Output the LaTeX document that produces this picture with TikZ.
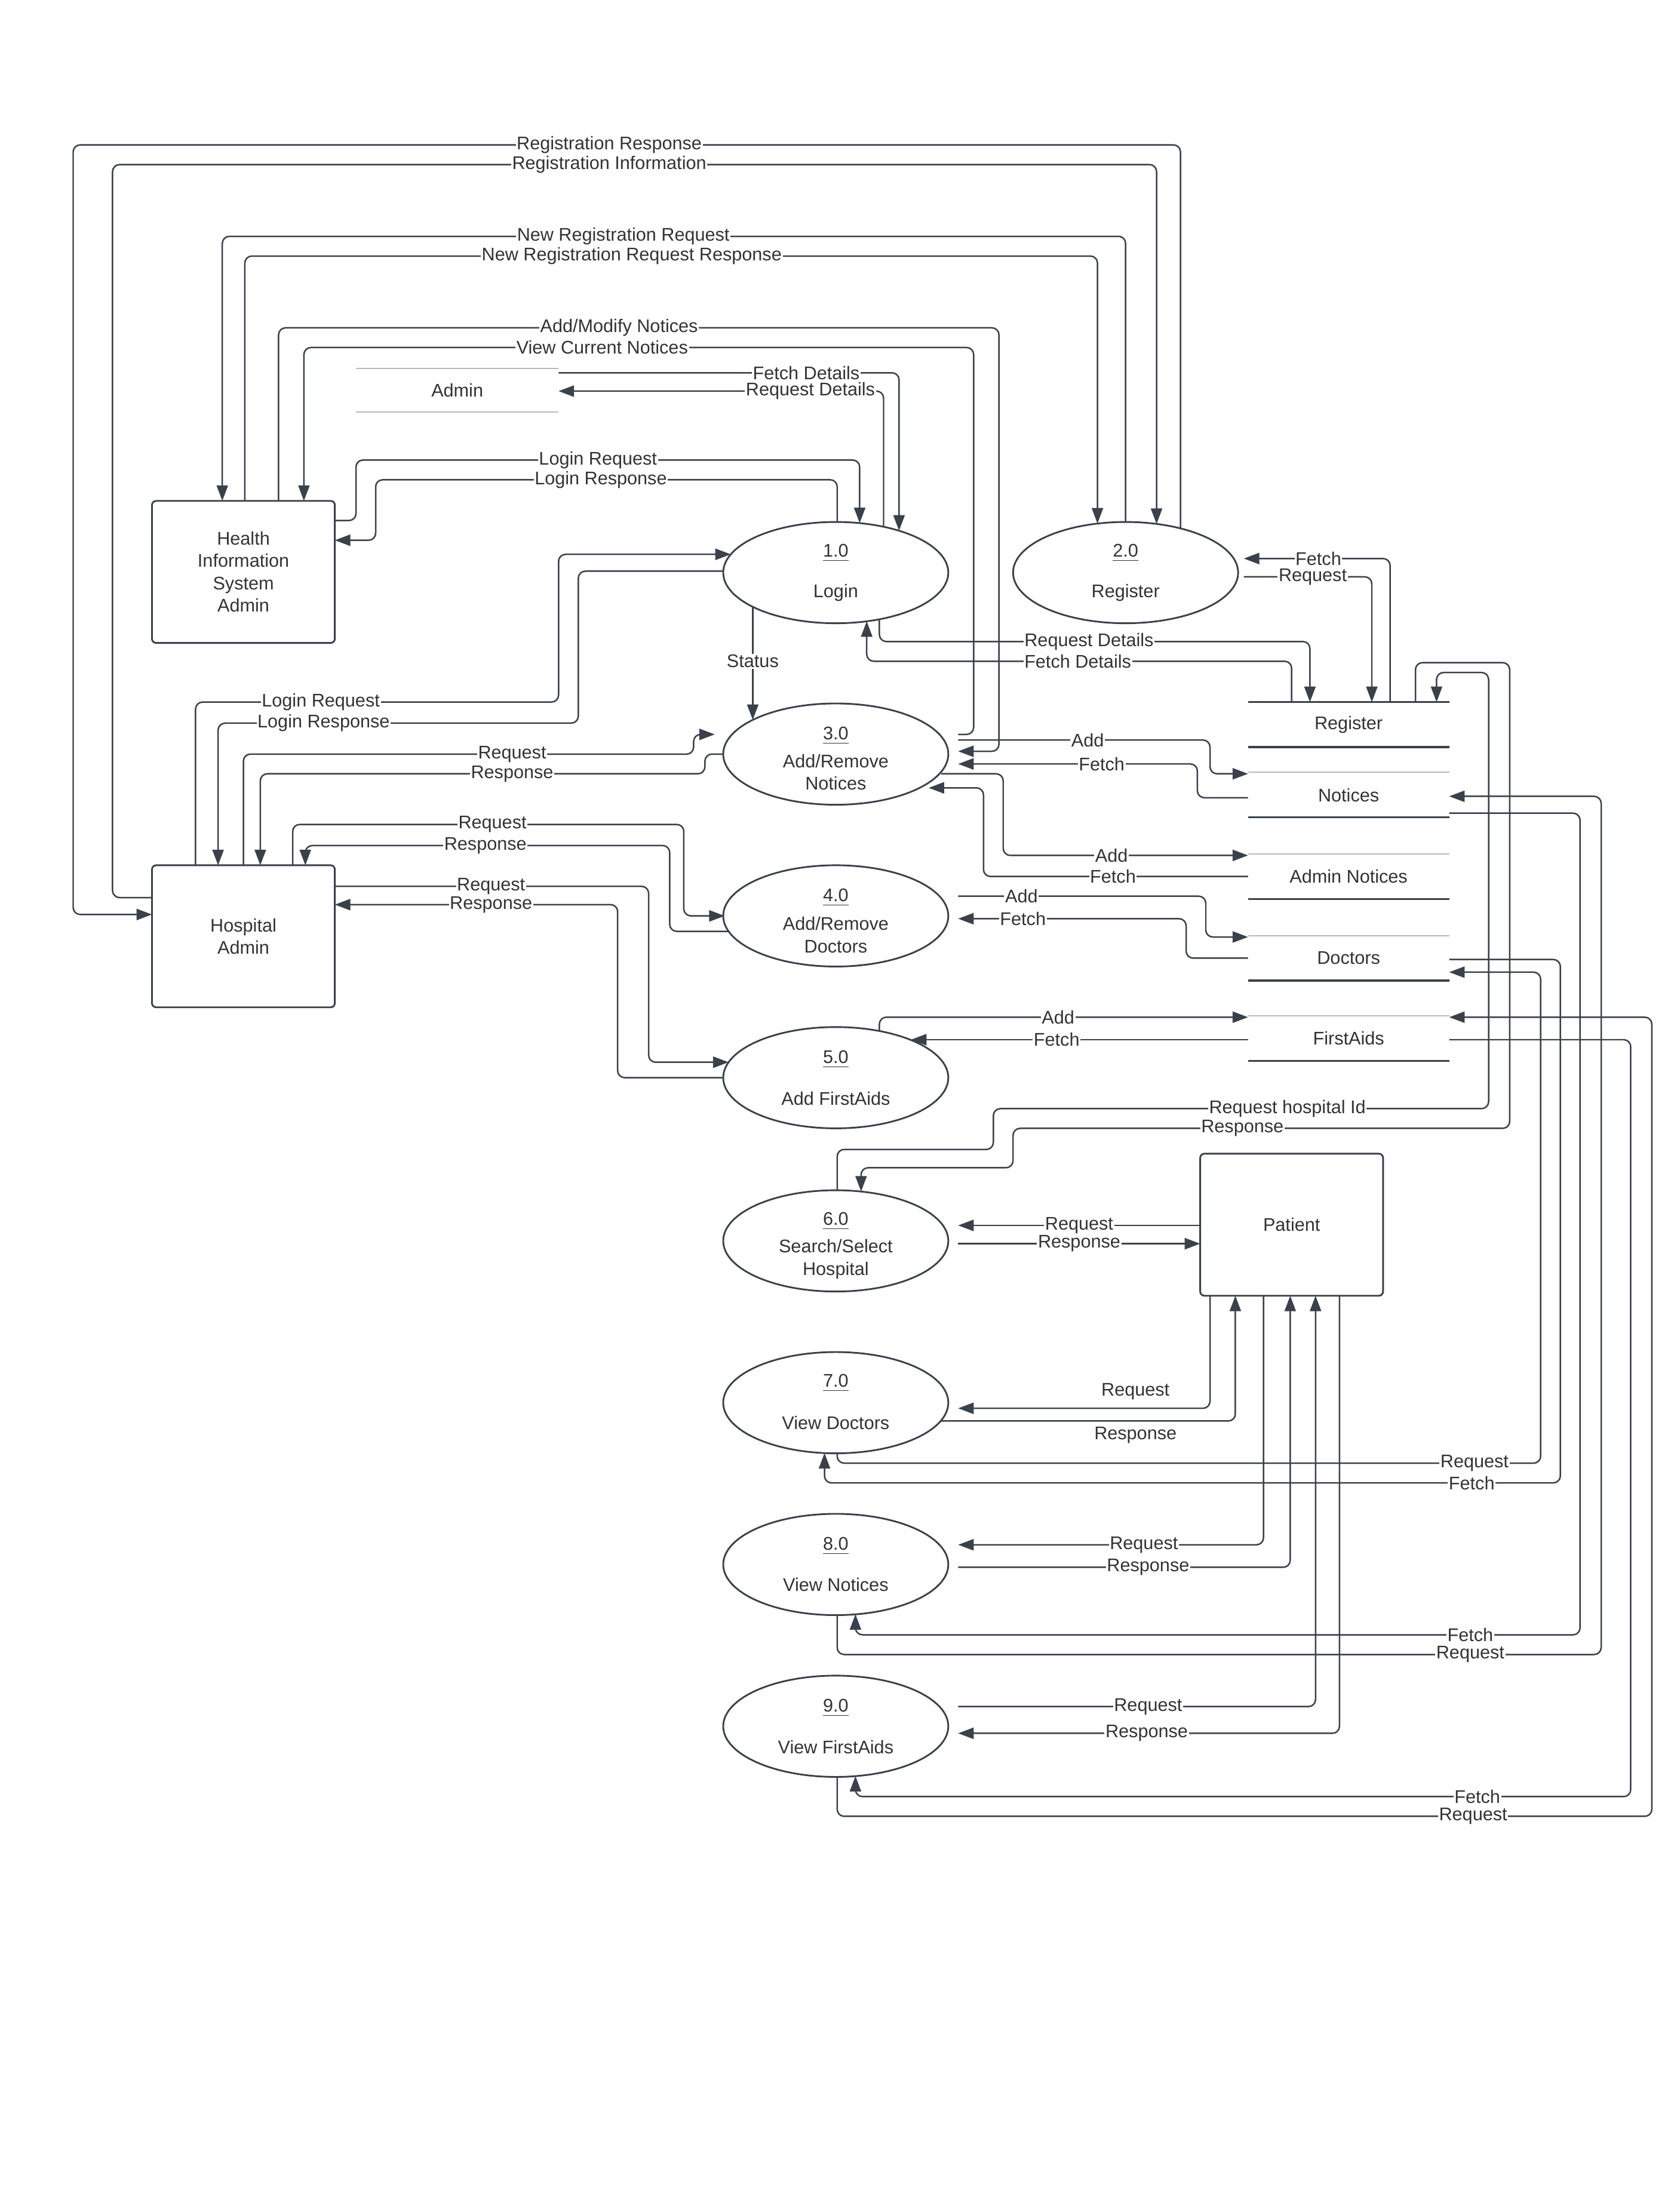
\documentclass[tikz,border=0pt]{standalone}
\usepackage{fontspec}
\setmainfont{Liberation Sans}
\usetikzlibrary{arrows.meta,calc,shapes.geometric}
\definecolor{lc}{RGB}{58,65,74}
\definecolor{tc}{RGB}{51,51,51}
\begin{document}
\begin{tikzpicture}[x=0.02cm,y=-0.02cm,
  font=\fontsize{7.4}{9}\selectfont, text=tc,
  conn/.style={draw=lc,line width=0.6pt,rounded corners=0.1cm},
  flow/.style={conn,-{Triangle[length=0.22cm,width=0.16cm]}},
  lbl/.style={fill=white,inner sep=0.4pt,text=tc},
  plainlbl/.style={inner sep=0.4pt,text=tc},
  proc/.style={ellipse,draw=lc,line width=0.7pt,fill=white,minimum width=3.2cm,minimum height=1.44cm,inner sep=0pt,outer sep=0pt},
  ent/.style={rectangle,draw=lc,line width=0.7pt,rounded corners=0.06cm,fill=white,minimum width=2.6cm,minimum height=2.02cm,align=center,inner sep=0pt,outer sep=0pt},
  store/.style={rectangle,minimum width=2.86cm,minimum height=0.64cm,inner sep=0pt,outer sep=0pt},
  ptxt/.style={align=center,inner sep=0pt},
  thinline/.style={draw=gray!55,line width=0.5pt},
  thickline/.style={draw=lc,line width=0.8pt}]
\useasboundingbox[fill=white] (0,0) rectangle (1194,1568);

% ---------- external entities ----------
\node[ent] (his) at (173,406.5) {Health\\Information\\System\\Admin};
\node[ent] (hosp) at (173,665.5) {Hospital\\Admin};
\node[ent] (pat) at (918,870.5) {Patient};

% ---------- processes ----------
\node[proc] (p1) at (594,407) {};
\node[proc] (p2) at (800,407) {};
\node[proc] (p3) at (594,536) {};
\node[proc] (p4) at (594,651) {};
\node[proc] (p5) at (594,766) {};
\node[proc] (p6) at (594,882) {};
\node[proc] (p7) at (594,997) {};
\node[proc] (p8) at (594,1112) {};
\node[proc] (p9) at (594,1227) {};

\node[ptxt] (n1) at ($(p1)+(0,-14)$) {\underline{1.0}};
\node[ptxt] (t1) at ($(p1)+(0,14.5)$) {Login};
\node[ptxt] (n2) at ($(p2)+(0,-14)$) {\underline{2.0}};
\node[ptxt] (t2) at ($(p2)+(0,14.5)$) {Register};
\node[ptxt] (n3) at ($(p3)+(0,-13)$) {\underline{3.0}};
\node[ptxt] (t3) at ($(p3)+(0,13)$) {Add/Remove\\Notices};
\node[ptxt] (n4) at ($(p4)+(0,-13)$) {\underline{4.0}};
\node[ptxt] (t4) at ($(p4)+(0,13.5)$) {Add/Remove\\Doctors};
\node[ptxt] (n5) at ($(p5)+(0,-13)$) {\underline{5.0}};
\node[ptxt] (t5) at ($(p5)+(0,15)$) {Add FirstAids};
\node[ptxt] (n6) at ($(p6)+(0,-14)$) {\underline{6.0}};
\node[ptxt] (t6) at ($(p6)+(0,13)$) {Search/Select\\Hospital};
\node[ptxt] (n7) at ($(p7)+(0,-14)$) {\underline{7.0}};
\node[ptxt] (t7) at ($(p7)+(0,14.5)$) {View Doctors};
\node[ptxt] (n8) at ($(p8)+(0,-13)$) {\underline{8.0}};
\node[ptxt] (t8) at ($(p8)+(0,14.5)$) {View Notices};
\node[ptxt] (n9) at ($(p9)+(0,-13)$) {\underline{9.0}};
\node[ptxt] (t9) at ($(p9)+(0,15)$) {View FirstAids};

% ---------- data stores ----------
\node[store,minimum width=2.88cm,minimum height=0.62cm] (dAdmin) at (325,277.5) {Admin};
\node[store] (dReg) at (958.5,515) {Register};
\node[store] (dNot) at (958.5,565) {Notices};
\node[store] (dANot) at (958.5,623) {Admin Notices};
\node[store] (dDoc) at (958.5,681) {Doctors};
\node[store] (dFA) at (958.5,738) {FirstAids};

\draw[thinline] (dAdmin.north west) -- (dAdmin.north east);
\draw[thinline] (dAdmin.south west) -- (dAdmin.south east);
\draw[thickline] (dReg.north west) -- (dReg.north east);
\draw[thickline] (dReg.south west) -- (dReg.south east);
\foreach \s in {dNot,dANot,dDoc,dFA}{
  \draw[thinline] (\s.north west) -- (\s.north east);
  \draw[thickline] (\s.south west) -- (\s.south east);
}

% ---------- connectors: top group ----------
\draw[flow] ($(p2)+(39,-31.4)$) -- (839,103) -- (52,103) -- (52,650) -- (hosp.west |- 0,650);
\draw[flow] (hosp.west |- 0,638) -- (80,638) -- (80,117) -- (822,117) -- ($(p2)+(22,-34.6)$);
\draw[flow] ($(p2)+(0,-36)$) -- (800,168) -- (158,168) -- (his.north -| 158,0);
\draw[flow] (his.north -| 174,0) -- (174,182) -- (780,182) -- ($(p2)+(-20,-34.9)$);
\draw[flow] (his.north -| 198,0) -- (198,233) -- (710,233) -- (710,534) -- ($(p3)+(87,-2)$);
\draw[flow] ($(p3)+(87,-14)$) -- (692,522) -- (692,247) -- (216,247) -- (his.north -| 216,0);
\draw[flow] (dAdmin.east |- 0,265) -- (639,265) -- ($(p1)+(45,-29.8)$);
\draw[flow] ($(p1)+(34,-32.6)$) -- (628,278) -- (dAdmin.east |- 0,278);
\draw[flow] (his.east |- 0,370) -- (253,370) -- (253,327) -- (611,327) -- ($(p1)+(17,-35.2)$);
\draw[flow] ($(p1)+(1,-36)$) -- (595,341) -- (267,341) -- (267,384) -- (his.east |- 0,384);

% ---------- login / register ----------
\draw[flow] ($(p1)+(31,33.2)$) -- (625,456) -- (931,456) -- (dReg.north -| 931,0);
\draw[flow] (dReg.north -| 918,0) -- (918,470) -- (616,470) -- ($(p1)+(22,34.6)$);
\draw[flow] ($(p2)+(84,3)$) -- (975,410) -- (dReg.north -| 975,0);
\draw[flow] (dReg.north -| 988,0) -- (988,397) -- ($(p2)+(84,-10)$);
\draw[flow] ($(p1)+(-59,24.3)$) -- ($(p3)+(-59,-24.3)$);

% ---------- hospital admin ----------
\draw[flow] (hosp.north -| 139,0) -- (139,499) -- (397,499) -- (397,394) -- ($(p1)+(-74.6,-13)$);
\draw[flow] ($(p1)+(-80,-1)$) -- (411,406) -- (411,514) -- (155,514) -- (hosp.north -| 155,0);
\draw[flow] (hosp.north -| 173,0) -- (173,536) -- (493,536) -- (493,522) -- (508,522);
\draw[flow] ($(p3)+(-80,0)$) -- (501,536) -- (501,550) -- (185,550) -- (hosp.north -| 185,0);
\draw[flow] (hosp.north -| 208,0) -- (208,586) -- (486,586) -- (486,651) -- ($(p4)+(-79,0)$);
\draw[flow] ($(p4)+(-76.2,11)$) -- (476,662) -- (476,601) -- (217,601) -- (hosp.north -| 217,0);
\draw[flow] (hosp.east |- 0,630) -- (461,630) -- (461,755) -- ($(p5)+(-76.2,-11)$);
\draw[flow] ($(p5)+(-80,0)$) -- (439,766) -- (439,643) -- (hosp.east |- 0,643);

% ---------- processes to stores ----------
\draw[flow] ($(p3)+(87,-10)$) -- (860,526) -- (860,550) -- (dNot.west |- 0,550);
\draw[flow] (dNot.west |- 0,567) -- (851,567) -- (851,543) -- ($(p3)+(87,7)$);
\draw[flow] ($(p3)+(75,14)$) -- (713,550) -- (713,608) -- (dANot.west |- 0,608);
\draw[flow] (dANot.west |- 0,623) -- (699,623) -- (699,560) -- ($(p3)+(66,24)$);
\draw[flow] ($(p4)+(87,-14)$) -- (857,637) -- (857,666) -- (dDoc.west |- 0,666);
\draw[flow] (dDoc.west |- 0,681) -- (843,681) -- (843,653) -- ($(p4)+(87,2)$);
\draw[flow] ($(p5)+(31,-33.2)$) -- (625,723) -- (dFA.west |- 0,723);
\draw[flow] (dFA.west |- 0,739) -- ($(p5)+(53.5,-27)$);

% ---------- search / select hospital ----------
\draw[flow] ($(p6)+(1,-36)$) -- (595,817) -- (706,817) -- (706,788) -- (1058,788) -- (1058,478) -- (1021,478) -- (dReg.north -| 1021,0);
\draw[flow] (dReg.north -| 1006,0) -- (1006,471) -- (1073,471) -- (1073,802) -- (720,802) -- (720,830) -- (612,830) -- ($(p6)+(18,-35.1)$);
\draw[flow] (pat.west |- 0,871) -- ($(p6)+(87,-11)$);
\draw[flow] ($(p6)+(87,2)$) -- (pat.west |- 0,884);

% ---------- patient views ----------
\draw[flow] (pat.south -| 860,0) -- (860,1001) -- ($(p7)+(87,4)$);
\draw[flow] ($(p7)+(75,13)$) -- (878,1010) -- (pat.south -| 878,0);
\draw[flow] (pat.south -| 898,0) -- (898,1098) -- ($(p8)+(87,-14)$);
\draw[flow] ($(p8)+(87,2)$) -- (917,1114) -- (pat.south -| 917,0);
\draw[flow] ($(p9)+(87,-14)$) -- (935,1213) -- (pat.south -| 935,0);
\draw[flow] (pat.south -| 952,0) -- (952,1232) -- ($(p9)+(87,5)$);

% ---------- views to stores ----------
\draw[flow] ($(p7)+(1,36)$) -- (595,1040) -- (1095,1040) -- (1095,691) -- (dDoc.east |- 0,691);
\draw[flow] (dDoc.east |- 0,682) -- (1109,682) -- (1109,1054) -- (586,1054) -- ($(p7)+(-8,35.8)$);
\draw[flow] ($(p8)+(1,36)$) -- (595,1176) -- (1138,1176) -- (1138,566) -- (dNot.east |- 0,566);
\draw[flow] (dNot.east |- 0,578) -- (1123,578) -- (1123,1162) -- (608,1162) -- ($(p8)+(14,35.4)$);
\draw[flow] ($(p9)+(1,36)$) -- (595,1291) -- (1174,1291) -- (1174,723) -- (dFA.east |- 0,723);
\draw[flow] (dFA.east |- 0,739) -- (1159,739) -- (1159,1277) -- (608,1277) -- ($(p9)+(14,35.4)$);

% ---------- labels ----------
\node[lbl] (L1) at (433,103) {Registration Response};
\node[lbl] (L2) at (433,117) {Registration Information};
\node[lbl] (L3) at (443,168) {New Registration Request};
\node[lbl] (L4) at (449,182) {New Registration Request Response};
\node[lbl] (L5) at (440,233) {Add/Modify Notices};
\node[lbl] (L6) at (428,247) {View Current Notices};
\node[lbl] (L7) at (573,265) {Fetch Details};
\node[lbl] (L8) at (576,278) {Request Details};
\node[lbl] (L9) at (425,327) {Login Request};
\node[lbl] (L10) at (427,341) {Login Response};
\node[lbl] (L11) at (774,456) {Request Details};
\node[lbl] (L12) at (766,470) {Fetch Details};
\node[lbl] (L13) at (933,410) {Request};
\node[lbl] (L14) at (937,397) {Fetch};
\node[lbl] (L15) at (535,470) {Status};
\node[lbl] (L16) at (228,499) {Login Request};
\node[lbl] (L17) at (230,514) {Login Response};
\node[lbl] (L18) at (364,536) {Request};
\node[lbl] (L19) at (364,550) {Response};
\node[lbl] (L20) at (350,586) {Request};
\node[lbl] (L21) at (345,601) {Response};
\node[lbl] (L22) at (349,630) {Request};
\node[lbl] (L23) at (349,643) {Response};
\node[lbl] (L24) at (773,526) {Add};
\node[lbl] (L25) at (783,543) {Fetch};
\node[lbl] (L26) at (790,608) {Add};
\node[lbl] (L27) at (791,623) {Fetch};
\node[lbl] (L28) at (726,637) {Add};
\node[lbl] (L29) at (727,653) {Fetch};
\node[lbl] (L30) at (752,723) {Add};
\node[lbl] (L31) at (751,739) {Fetch};
\node[lbl] (L32) at (915,788) {Request hospital Id};
\node[lbl] (L33) at (883,802) {Response};
\node[lbl] (L34) at (767,871) {Request};
\node[lbl] (L35) at (767,884) {Response};
\node[plainlbl] (L36) at (807,989) {Request};
\node[plainlbl] (L37) at (807,1020) {Response};
\node[lbl] (L38) at (1048,1040) {Request};
\node[lbl] (L39) at (1046,1054) {Fetch};
\node[lbl] (L40) at (813,1098) {Request};
\node[lbl] (L41) at (816,1114) {Response};
\node[lbl] (L42) at (1045,1176) {Request};
\node[lbl] (L43) at (1045,1162) {Fetch};
\node[lbl] (L44) at (816,1213) {Request};
\node[lbl] (L45) at (815,1232) {Response};
\node[lbl] (L46) at (1047,1291) {Request};
\node[lbl] (L47) at (1050,1277) {Fetch};
\end{tikzpicture}
\end{document}
